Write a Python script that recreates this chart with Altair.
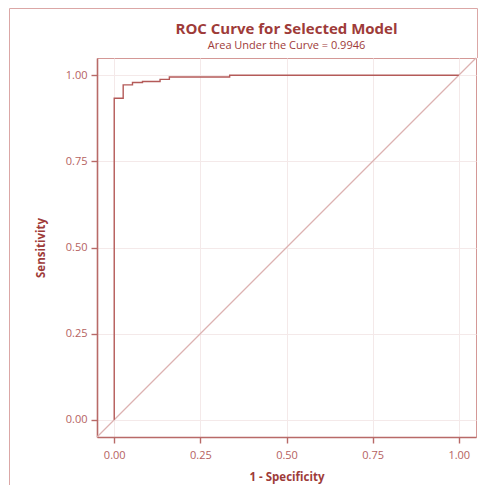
import altair as alt
import pandas as pd

# ROC curve steps (1 - specificity, sensitivity)
fpr = [0.0, 0.0, 0.026, 0.053, 0.082, 0.133, 0.16, 0.335, 1.0]
tpr = [0.0, 0.933, 0.972, 0.979, 0.982, 0.988, 0.995, 1.0, 1.0]
# reference diagonal spans the whole axis domain
diag_x = [-0.05, 1.05]
diag_y = [-0.05, 1.05]
tick_values = [0.0, 0.25, 0.5, 0.75, 1.0]

TITLE_COLOR = "#9e3b39"
LABEL_COLOR = "#b5625f"
AXIS_COLOR = "#b86a68"
CURVE_COLOR = "#b45a58"
DIAG_COLOR = "#dcb2b1"
GRID_COLOR = "#f4e9e9"
FRAME_COLOR = "#dba7a6"
FONT = "Open Sans"

roc = pd.DataFrame({"fpr": fpr, "tpr": tpr, "step": list(range(len(fpr)))})
diag = pd.DataFrame({"fpr": diag_x, "tpr": diag_y})

xscale = alt.Scale(domain=[-0.05, 1.05], nice=False, zero=False)
yscale = alt.Scale(domain=[-0.05, 1.05], nice=False, zero=False)

xaxis = alt.Axis(values=tick_values, format=".2f", title="1 - Specificity",
                 titleFontWeight="bold", titleFontSize=11.5, titleColor=TITLE_COLOR,
                 titlePadding=11, labelPadding=6, tickSize=6)
yaxis = alt.Axis(values=tick_values, format=".2f", title="Sensitivity",
                 titleFontWeight="bold", titleFontSize=11.5, titleColor=TITLE_COLOR,
                 titlePadding=19, labelPadding=4, tickSize=6)

diag_layer = alt.Chart(diag).mark_line(color=DIAG_COLOR, strokeWidth=1.2).encode(
    x=alt.X("fpr:Q", scale=xscale, axis=xaxis),
    y=alt.Y("tpr:Q", scale=yscale, axis=yaxis),
)

roc_layer = alt.Chart(roc).mark_line(color=CURVE_COLOR, strokeWidth=1.4,
                                     interpolate="step-after").encode(
    x=alt.X("fpr:Q", scale=xscale),
    y=alt.Y("tpr:Q", scale=yscale),
    order="step:Q",
)

one = pd.DataFrame({"k": [0]})
frame_left = alt.Chart(one).mark_rule(color=FRAME_COLOR, strokeWidth=1).encode(
    x=alt.value(-87.5), y=alt.value(-49.5), y2=alt.value(440))
frame_top = alt.Chart(one).mark_rule(color=FRAME_COLOR, strokeWidth=1).encode(
    x=alt.value(-87.5), x2=alt.value(380.5), y=alt.value(-49.5))
frame_right = alt.Chart(one).mark_rule(color=FRAME_COLOR, strokeWidth=1).encode(
    x=alt.value(380.5), y=alt.value(-49.5), y2=alt.value(0))

chart = alt.layer(diag_layer, roc_layer, frame_left, frame_top, frame_right).properties(
    width=379,
    height=379,
    background="white",
    title=alt.TitleParams(
        text="ROC Curve for Selected Model",
        subtitle="Area Under the Curve = 0.9946",
        anchor="middle",
        font=FONT,
        fontSize=15,
        fontWeight="bold",
        color=TITLE_COLOR,
        subtitleFont=FONT,
        subtitleFontSize=11,
        subtitleColor=TITLE_COLOR,
        subtitlePadding=3,
        offset=-43,
    ),
    autosize=alt.AutoSizeParams(type="none"),
    padding={"left": 89, "top": 50, "right": 4, "bottom": 48},
).configure_view(
    stroke="#d49896", strokeWidth=1
).configure_axis(
    domainColor=AXIS_COLOR, domainWidth=1.6, tickColor=AXIS_COLOR, tickWidth=1.4,
    labelColor=LABEL_COLOR, labelFont=FONT, labelFontSize=11, titleFont=FONT,
    gridColor=GRID_COLOR, gridWidth=1,
)

chart.save("out.html", embed_options={"renderer": "svg", "actions": False})
